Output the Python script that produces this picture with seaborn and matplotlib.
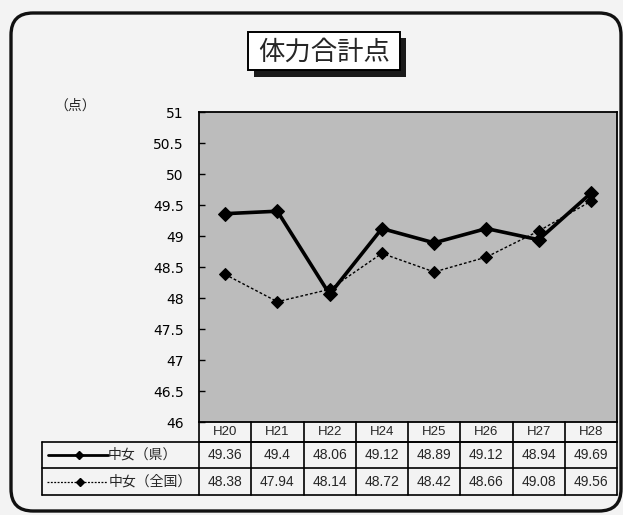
import matplotlib
matplotlib.use("Agg")
import numpy as np
import pandas as pd
import seaborn as sns
import matplotlib.pyplot as plt
from matplotlib.patches import Rectangle, FancyBboxPatch
from matplotlib.lines import Line2D

# ---- data ----
years = ["H20", "H21", "H22", "H24", "H25", "H26", "H27", "H28"]
pref_values = [49.36, 49.4, 48.06, 49.12, 48.89, 49.12, 48.94, 49.69]
nation_values = [48.38, 47.94, 48.14, 48.72, 48.42, 48.66, 49.08, 49.56]
pref_label_texts = ["49.36", "49.4", "48.06", "49.12", "48.89", "49.12", "48.94", "49.69"]
nation_label_texts = ["48.38", "47.94", "48.14", "48.72", "48.42", "48.66", "49.08", "49.56"]
series_names = ["中女（県）", "中女（全国）"]
title_text = "体力合計点"
unit_text = "（点）"
y_ticks = [46, 46.5, 47, 47.5, 48, 48.5, 49, 49.5, 50, 50.5, 51]
y_tick_labels = ["46", "46.5", "47", "47.5", "48", "48.5", "49", "49.5", "50", "50.5", "51"]

W, H = 623, 515
sns.set_theme(style="white")
plt.rcParams['font.family'] = ['DejaVu Sans', 'Noto Sans CJK JP']
CJK = ['Noto Sans CJK JP', 'DejaVu Sans']
NUM = ['Liberation Sans', 'DejaVu Sans']

fig = plt.figure(figsize=(W / 100, H / 100), dpi=100, facecolor='#f3f3f3')
T = fig.dpi_scale_trans


def P(x, y):
    return (x / 100.0, (H - y) / 100.0)


# ---- outer rounded frame ----
x0, y0 = P(11, 511)
fig.add_artist(FancyBboxPatch((x0, y0), (621 - 11) / 100, (511 - 13) / 100,
                              boxstyle="round,pad=0,rounding_size=0.22",
                              transform=T, fill=False, ec='#111111', lw=2.4))

# ---- plot area ----
L, R, TOP, BOT = 199, 617, 112, 422
ax = fig.add_axes([L / W, 1 - BOT / H, (R - L) / W, (BOT - TOP) / H])
ax.set_facecolor('#bcbcbc')

df = pd.DataFrame({"year": years * 2,
                   "value": pref_values + nation_values,
                   "series": [series_names[0]] * len(years) + [series_names[1]] * len(years)})

sns.lineplot(data=df[df.series == series_names[0]], x="year", y="value", ax=ax,
             color='black', lw=2.6, marker='D', ms=7, mec='black', sort=False, legend=False)
sns.lineplot(data=df[df.series == series_names[1]], x="year", y="value", ax=ax,
             color='black', lw=1.0, marker='D', ms=6.5, mec='black', sort=False, legend=False,
             linestyle=(0, (2, 1.5)))

ax.set_xlim(-0.5, len(years) - 0.5)
ax.set_ylim(46, 51)
ax.set_yticks(y_ticks)
ax.set_yticklabels(y_tick_labels)
ax.set_xticks([])
ax.set_xlabel("")
ax.set_ylabel("")
ax.tick_params(axis='y', direction='in', length=4, width=1, pad=11, labelsize=10, colors='black', left=True)
for s in ax.spines.values():
    s.set_color('black')
    s.set_linewidth(1.3)

# unit label
fig.text(*P(75, 106), unit_text, transform=T, family=CJK, fontsize=10, ha='center', va='center')

# ---- title box ----
fig.add_artist(Rectangle(P(254, 77), (406 - 254) / 100, (77 - 38) / 100, transform=T,
                         fc='#1a1a1a', ec='none'))
fig.add_artist(Rectangle(P(248, 70), (400 - 248) / 100, (70 - 32) / 100, transform=T,
                         fc='white', ec='black', lw=1.4))
fig.text(*P(324, 52), title_text, transform=T, family=CJK, fontsize=19, ha='center', va='center')

# ---- data table ----
ncol = len(years)
cw = (R - L) / ncol
xb = [L + i * cw for i in range(ncol + 1)]
rows_y = [422, 442, 468, 495]
TL = 42
lw_t = 1.2


def hline(xa, xb_, y):
    fig.add_artist(Line2D([xa / 100, xb_ / 100], [(H - y) / 100] * 2, transform=T, color='black', lw=lw_t))


def vline(x, ya, yb):
    fig.add_artist(Line2D([x / 100] * 2, [(H - ya) / 100, (H - yb) / 100], transform=T, color='black', lw=lw_t))


hline(L, R, rows_y[1])
hline(TL, R, rows_y[1])
hline(TL, R, rows_y[2])
hline(TL, R, rows_y[3])
for x in xb:
    vline(x, rows_y[0], rows_y[3])
vline(TL, rows_y[1], rows_y[3])

for i in range(ncol):
    cx = xb[i] + cw / 2
    fig.text(*P(cx, (rows_y[0] + rows_y[1]) / 2), years[i], transform=T, family=NUM,
             fontsize=9.5, ha='center', va='center')
    fig.text(*P(cx, (rows_y[1] + rows_y[2]) / 2), pref_label_texts[i], transform=T, family=NUM,
             fontsize=10, ha='center', va='center')
    fig.text(*P(cx, (rows_y[2] + rows_y[3]) / 2), nation_label_texts[i], transform=T, family=NUM,
             fontsize=10, ha='center', va='center')

# legend samples in row labels
r1 = (rows_y[1] + rows_y[2]) / 2
r2 = (rows_y[2] + rows_y[3]) / 2
fig.add_artist(Line2D([48 / 100, 108 / 100], [(H - r1) / 100] * 2, transform=T, color='black', lw=2.0))
fig.add_artist(Line2D([79 / 100], [(H - r1) / 100], transform=T, color='black', marker='D', ms=4.5))
fig.add_artist(Line2D([47 / 100, 107 / 100], [(H - r2) / 100] * 2, transform=T, color='black', lw=0.9,
                      linestyle=(0, (1.5, 1.2))))
fig.add_artist(Line2D([80 / 100], [(H - r2) / 100], transform=T, color='black', marker='D', ms=4.5))
fig.text(*P(108, r1), series_names[0], transform=T, family=CJK, fontsize=10, ha='left', va='center')
fig.text(*P(109, r2), series_names[1], transform=T, family=CJK, fontsize=10, ha='left', va='center')

fig.savefig("out.png", dpi=100, facecolor=fig.get_facecolor())
